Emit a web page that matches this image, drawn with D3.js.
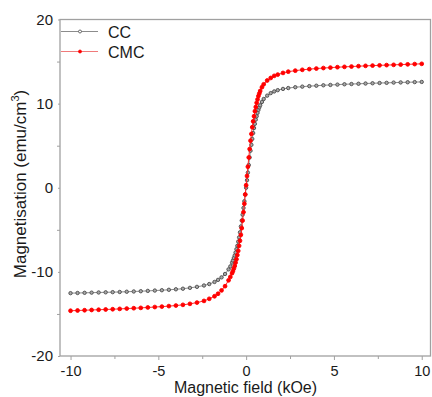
<!DOCTYPE html>
<html lang="en">
<head>
<meta charset="UTF-8">
<title>Magnetisation</title>
<style>
  body { margin: 0; background: #fff; }
  svg { font-family: "Liberation Sans", Arial, sans-serif; }
  .frame { fill: none; stroke: #a0a0a0; stroke-width: 1.3; }
  .tick line { stroke: #a0a0a0; }
</style>
</head>
<body>
<svg id="chart" width="432" height="397"></svg>
<script src="https://cdn.jsdelivr.net/npm/d3@7"></script>
<script>
  // field values (kOe), shared by both samples
  var field = [-10, -9.6, -9.2, -8.8, -8.4, -8, -7.6, -7.2, -6.8, -6.4, -6, -5.6, -5.2, -4.8, -4.4, -4, -3.6, -3.2, -2.8, -2.4,
    -2.1, -1.8, -1.6, -1.4, -1.2, -1, -0.9,
    -0.8, -0.75, -0.7, -0.65, -0.6, -0.55, -0.5, -0.45, -0.4, -0.35, -0.3, -0.25, -0.2, -0.15, -0.1, -0.05,
    0,
    0.05, 0.1, 0.15, 0.2, 0.25, 0.3, 0.35, 0.4, 0.45, 0.5, 0.55, 0.6, 0.65, 0.7, 0.75, 0.8,
    0.9, 1, 1.2, 1.4, 1.6, 1.8, 2.1,
    2.4, 2.8, 3.2, 3.6, 4, 4.4, 4.8, 5.2, 5.6, 6, 6.4, 6.8, 7.2, 7.6, 8, 8.4, 8.8, 9.2, 9.6, 10];

  var ccM = [-12.53, -12.51, -12.49, -12.47, -12.45, -12.43, -12.41, -12.39, -12.36, -12.33, -12.3, -12.26, -12.22, -12.18, -12.13, -12.07, -12.0, -11.9, -11.78, -11.62,
    -11.45, -11.2, -10.95, -10.65, -10.25, -9.7, -9.35,
    -8.9, -8.65, -8.35, -8.05, -7.7, -7.3, -6.9, -6.4, -5.9, -5.3, -4.6, -3.9, -3.2, -2.4, -1.6, -0.8,
    0,
    0.9, 1.8, 2.7, 3.6, 4.4, 5.1, 5.8, 6.5, 7.1, 7.6, 8.1, 8.5, 8.9, 9.25, 9.55, 9.8,
    10.2, 10.55, 10.95, 11.25, 11.45, 11.6, 11.75,
    11.85, 11.95, 12.02, 12.08, 12.13, 12.18, 12.22, 12.26, 12.3, 12.33, 12.36, 12.39, 12.42, 12.45, 12.47, 12.5, 12.52, 12.54, 12.56, 12.58];

  var cmcM = [-14.62, -14.59, -14.56, -14.53, -14.5, -14.47, -14.44, -14.4, -14.36, -14.32, -14.28, -14.23, -14.18, -14.13, -14.07, -14.0, -13.92, -13.8, -13.65, -13.45,
    -13.2, -12.9, -12.6, -12.2, -11.7, -11.0, -10.6,
    -10.15, -9.9, -9.6, -9.3, -8.9, -8.5, -8.0, -7.5, -6.9, -6.3, -5.6, -4.8, -3.9, -2.9, -1.9, -0.8,
    0.3,
    1.4, 2.5, 3.6, 4.6, 5.6, 6.4, 7.2, 7.9, 8.5, 9.1, 9.6, 10.1, 10.5, 10.9, 11.2, 11.5,
    11.95, 12.3, 12.75, 13.05, 13.3, 13.45, 13.65,
    13.8, 13.92, 14.02, 14.1, 14.17, 14.23, 14.28, 14.33, 14.37, 14.41, 14.45, 14.49, 14.52, 14.55, 14.58, 14.61, 14.64, 14.67, 14.7, 14.73];

  var xTicks = [-10, -5, 0, 5, 10];
  var xMinor = [-7.5, -2.5, 2.5, 7.5];
  var yTicks = [-20, -10, 0, 10, 20];
  var yMinor = [-15, -5, 5, 15];

  var series = [
    {name: "CC", values: ccM, line: "#8c8c8c", key: "#8c8c8c", marker: "#4a4a4a", fill: "#a8a8a8", r: 1.7},
    {name: "CMC", values: cmcM, line: "#ff2a2a", key: "#f07a7a", marker: "#ff0000", fill: "#ff0000", r: 1.9}
  ];

  var svg = d3.select("#chart");
  var mLeft = 60, mRight = 430.5, mTop = 19.5, mBottom = 356;
  var plain = function (d) { return String(d); };

  var x = d3.scaleLinear().domain([-10.6, 10.5]).range([mLeft, mRight]);
  var y = d3.scaleLinear().domain([-20, 20]).range([mBottom, mTop]);

  // axes (outward ticks)
  svg.append("g").attr("transform", "translate(0," + mBottom + ")")
    .call(d3.axisBottom(x).tickValues(xMinor).tickSize(3).tickFormat(""))
    .call(function (g) { g.select(".domain").remove(); });
  svg.append("g").attr("transform", "translate(0," + mBottom + ")")
    .call(d3.axisBottom(x).tickValues(xTicks).tickSize(4).tickPadding(6).tickFormat(plain))
    .call(function (g) {
      g.select(".domain").remove();
      g.selectAll("text").attr("font-size", 14.5).attr("fill", "#1a1a1a")
        .attr("font-family", "Liberation Sans, Arial, sans-serif");
    });
  svg.append("g").attr("transform", "translate(" + mLeft + ",0)")
    .call(d3.axisLeft(y).tickValues(yMinor).tickSize(3).tickFormat(""))
    .call(function (g) { g.select(".domain").remove(); });
  svg.append("g").attr("transform", "translate(" + mLeft + ",0)")
    .call(d3.axisLeft(y).tickValues(yTicks).tickSize(2).tickPadding(5).tickFormat(plain))
    .call(function (g) {
      g.select(".domain").remove();
      g.selectAll("text").attr("font-size", 15).attr("fill", "#1a1a1a")
        .attr("font-family", "Liberation Sans, Arial, sans-serif");
    });

  svg.append("rect").attr("class", "frame")
    .attr("x", mLeft).attr("y", mTop)
    .attr("width", mRight - mLeft).attr("height", mBottom - mTop);

  // curves
  var line = d3.line()
    .x(function (d, i) { return x(field[i]); })
    .y(function (d) { return y(d); });

  series.forEach(function (s) {
    var g = svg.append("g");
    g.append("path")
      .attr("d", line(s.values))
      .attr("fill", "none")
      .attr("stroke", s.line)
      .attr("stroke-width", 1);
    g.selectAll("circle").data(s.values).enter().append("circle")
      .attr("cx", function (d, i) { return x(field[i]); })
      .attr("cy", function (d) { return y(d); })
      .attr("r", s.r)
      .attr("fill", s.fill)
      .attr("stroke", s.marker)
      .attr("stroke-width", 0.9);
  });

  // legend
  series.forEach(function (s, i) {
    var ly = 31.5 + i * 20;
    svg.append("line")
      .attr("x1", 61).attr("x2", 98).attr("y1", ly).attr("y2", ly)
      .attr("stroke", s.key).attr("stroke-width", 1);
    svg.append("circle").attr("cx", 80).attr("cy", ly)
      .attr("r", 1.5)
      .attr("fill", s.name === "CC" ? "#fff" : s.fill)
      .attr("stroke", s.marker).attr("stroke-width", 0.8);
    svg.append("text").attr("x", 108).attr("y", ly + 6)
      .attr("font-size", 16).attr("fill", "#1a1a1a").text(s.name);
  });

  // axis titles
  svg.append("text")
    .attr("x", 245.5).attr("y", 393)
    .attr("text-anchor", "middle")
    .attr("font-size", 16).attr("fill", "#1a1a1a")
    .text("Magnetic field (kOe)");

  var yt = svg.append("text")
    .attr("transform", "translate(26,184) rotate(-90)")
    .attr("text-anchor", "middle")
    .attr("font-size", 17).attr("fill", "#1a1a1a");
  yt.append("tspan").text("Magnetisation (emu/cm");
  yt.append("tspan").attr("font-size", 11).attr("dy", -7).text("3");
  yt.append("tspan").attr("dy", 7).text(")");
</script>
</body>
</html>
